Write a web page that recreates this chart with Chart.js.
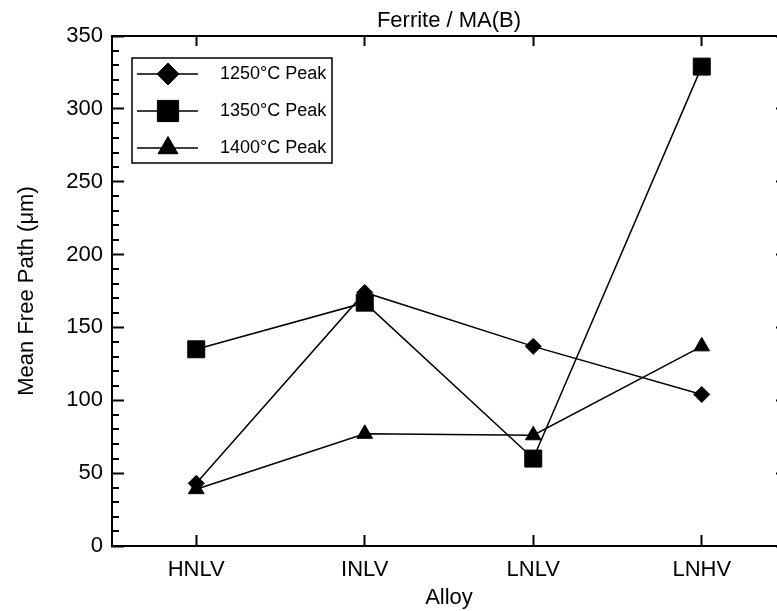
<!DOCTYPE html>
<html>
<head>
<meta charset="utf-8">
<script src="https://cdn.jsdelivr.net/npm/chart.js@4.4.1/dist/chart.umd.min.js"></script>
<style>
  html, body { margin: 0; padding: 0; background: #fff; overflow: hidden; }
  #wrap { width: 777px; height: 611px; }
</style>
</head>
<body>
<div id="wrap"><canvas id="c" width="777" height="611"></canvas></div>
<script>
// Mean free path of ferrite / MA(B) per alloy and peak temperature
const alloys = ['HNLV', 'INLV', 'LNLV', 'LNHV'];
const seriesNames = ['1250°C Peak', '1350°C Peak', '1400°C Peak'];
const peak1250 = [43, 174, 137, 104];
const peak1350 = [135, 167, 60, 329];
const peak1400 = [39, 77, 76, 137];
const yRange = [0, 350];
const yMajorStep = 50;
const yMinorStep = 10;

const FONT = "'Liberation Sans', Arial, Helvetica, sans-serif";
Chart.defaults.font.family = FONT;
Chart.defaults.color = '#000';

const markers = [
  { style: 'rectRot', radius: 8, legendRadius: 11 },
  { style: 'rect', radius: 12, legendRadius: 15 },
  { style: 'triangle', radius: 9, legendRadius: 11.5 }
];

function makeSeries(label, values, m) {
  return {
    label: label,
    data: values,
    borderColor: '#000',
    borderWidth: 1.5,
    backgroundColor: '#000',
    pointStyle: m.style,
    pointRadius: m.radius,
    pointBackgroundColor: '#000',
    pointBorderColor: '#000',
    pointBorderWidth: 1,
    legendRadius: m.legendRadius,
    tension: 0,
    clip: false
  };
}

// the plot frame runs a few pixels past the right edge of the canvas
const FRAME_OVERHANG = 9;
const widenFrame = {
  id: 'widenFrame',
  afterLayout(chart) {
    const d = chart.width + FRAME_OVERHANG - chart.chartArea.right;
    chart.chartArea.right += d;
    chart.chartArea.width += d;
    ['x', 'x2'].forEach((id) => {
      const s = chart.scales[id];
      s.right += d;
      s.width += d;
      s.configure();
    });
    const r = chart.scales.y2;
    r.left += d;
    r.right += d;
    r.configure();
  }
};

// short inward minor ticks on the left axis
const minorTicks = {
  id: 'minorTicks',
  afterDraw(chart) {
    const ys = chart.scales.y;
    const ctx = chart.ctx;
    const left = chart.chartArea.left;
    ctx.save();
    ctx.strokeStyle = '#000';
    ctx.lineWidth = 2;
    for (let v = yRange[0]; v <= yRange[1]; v += yMinorStep) {
      if (v % yMajorStep === 0) continue;
      const py = Math.round(ys.getPixelForValue(v));
      ctx.beginPath();
      ctx.moveTo(left, py);
      ctx.lineTo(left + 7, py);
      ctx.stroke();
    }
    ctx.restore();
  }
};

// framed legend with line-and-marker samples inside the plot
const legendBox = {
  id: 'legendBox',
  afterDatasetsDraw(chart) {
    const ctx = chart.ctx;
    const area = chart.chartArea;
    const x0 = area.left + 20, y0 = area.top + 22, w = 200, h = 105;
    ctx.save();
    ctx.fillStyle = '#fff';
    ctx.fillRect(x0, y0, w, h);
    ctx.strokeStyle = '#000';
    ctx.lineWidth = 1.5;
    ctx.strokeRect(x0, y0, w, h);
    chart.data.datasets.forEach((ds, i) => {
      const cy = y0 + 16 + i * 37;
      ctx.strokeStyle = '#000';
      ctx.lineWidth = 1.5;
      ctx.beginPath();
      ctx.moveTo(x0 + 5, cy);
      ctx.lineTo(x0 + 66, cy);
      ctx.stroke();
      ctx.fillStyle = '#000';
      ctx.lineWidth = 1;
      Chart.helpers.drawPoint(ctx, {
        pointStyle: ds.pointStyle, radius: ds.legendRadius, borderWidth: 1, rotation: 0
      }, x0 + 36, cy);
      ctx.font = '18px ' + FONT;
      ctx.textBaseline = 'middle';
      ctx.textAlign = 'left';
      ctx.fillText(ds.label, x0 + 88, cy);
    });
    ctx.restore();
  }
};

const axisGrid = (len) => ({
  drawOnChartArea: false,
  drawTicks: true,
  tickLength: len,
  tickWidth: 2,
  tickColor: '#000',
  color: '#000'
});
const axisBorder = { display: true, color: '#000', width: 2 };

new Chart(document.getElementById('c'), {
  type: 'line',
  data: {
    labels: alloys,
    datasets: [
      makeSeries(seriesNames[0], peak1250, markers[0]),
      makeSeries(seriesNames[1], peak1350, markers[1]),
      makeSeries(seriesNames[2], peak1400, markers[2])
    ]
  },
  options: {
    responsive: false,
    animation: false,
    events: [],
    layout: { padding: 0 },
    plugins: {
      legend: { display: false },
      tooltip: { enabled: false },
      title: { display: false }
    },
    scales: {
      x: {
        type: 'category',
        position: 'bottom',
        offset: true,
        grid: axisGrid(-11),
        border: axisBorder,
        ticks: { font: { size: 22 }, padding: 22, maxRotation: 0, autoSkip: false, color: '#000' },
        title: { display: true, text: 'Alloy', font: { size: 22 }, padding: { top: 0, bottom: 0 }, color: '#000' },
        afterFit(s) { s.height = 65; }
      },
      x2: {
        type: 'category',
        labels: alloys,
        position: 'top',
        offset: true,
        grid: axisGrid(-10),
        border: axisBorder,
        ticks: { display: false },
        title: { display: true, text: 'Ferrite / MA(B)', font: { size: 22 }, padding: { top: 8, bottom: 0 }, color: '#000' },
        afterFit(s) { s.height = 36; }
      },
      y: {
        type: 'linear',
        position: 'left',
        min: yRange[0],
        max: yRange[1],
        grid: axisGrid(-12),
        border: axisBorder,
        ticks: { stepSize: yMajorStep, font: { size: 22 }, padding: 21, color: '#000' },
        title: { display: true, text: 'Mean Free Path (μm)', font: { size: 22 }, padding: { top: 14, bottom: 0 }, color: '#000' },
        afterFit(s) { s.width = 112; }
      },
      y2: {
        type: 'linear',
        position: 'right',
        min: yRange[0],
        max: yRange[1],
        grid: axisGrid(-10),
        border: axisBorder,
        ticks: { stepSize: yMajorStep, display: false },
        afterFit(s) { s.width = 0; }
      }
    }
  },
  plugins: [widenFrame, minorTicks, legendBox]
});
</script>
</body>
</html>
